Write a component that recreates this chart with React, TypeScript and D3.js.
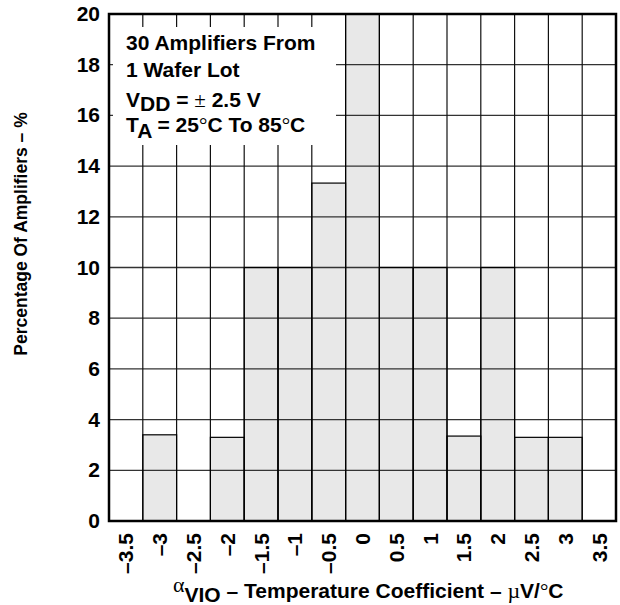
import React from 'react';
import * as d3 from 'd3';

// bin centres (µV/°C) and the label printed under each bin
const binCenters = [-3.5, -3, -2.5, -2, -1.5, -1, -0.5, 0, 0.5, 1, 1.5, 2, 2.5, 3, 3.5];
const tickLabels = ['–3.5', '–3', '–2.5', '–2', '–1.5', '–1', '–0.5', '0', '0.5', '1', '1.5', '2', '2.5', '3', '3.5'];
// percentage of amplifiers in each bin
const percentages = [0, 3.4, 0, 3.3, 10, 10, 13.33, 20, 10, 10, 3.35, 10, 3.3, 3.3, 0];
const yTicks = [0, 2, 4, 6, 8, 10, 12, 14, 16, 18, 20];

const W = 620;
const H = 605;
const left = 109;
const right = 616;
const top = 14;
const bottom = 521;

const font = '"Liberation Sans", Arial, Helvetica, sans-serif';
const symFont = '"Liberation Serif", "DejaVu Serif", serif';

const App: React.FC = () => {
  const x = d3
    .scaleBand<number>()
    .domain(binCenters)
    .range([left, right])
    .padding(0);
  const y = d3.scaleLinear().domain([0, 20]).range([bottom, top]);
  const bw = x.bandwidth();

  const edges = binCenters.slice(1).map((c) => x(c) as number);

  return (
    <svg
      width={W}
      height={H}
      style={{ position: 'absolute', left: 0, top: 0, background: '#fff' }}
      fontFamily={font}
    >
      {/* bars */}
      {binCenters.map((c, i) =>
        percentages[i] > 0 ? (
          <rect
            key={'b' + c}
            x={x(c)}
            y={y(percentages[i])}
            width={bw}
            height={bottom - y(percentages[i])}
            fill="#e8e8e8"
          />
        ) : null
      )}
      {/* grid */}
      {yTicks.slice(1, -1).map((t) => (
        <line key={'h' + t} x1={left} x2={right} y1={y(t)} y2={y(t)} stroke="#333" strokeWidth={1.3} />
      ))}
      {edges.map((e, i) => (
        <line key={'v' + i} x1={e} x2={e} y1={top} y2={bottom} stroke="#111" strokeWidth={1.2} />
      ))}
      {/* bar outlines */}
      {binCenters.map((c, i) =>
        percentages[i] > 0 ? (
          <rect
            key={'o' + c}
            x={x(c)}
            y={y(percentages[i])}
            width={bw}
            height={bottom - y(percentages[i])}
            fill="none"
            stroke="#000"
            strokeWidth={1.2}
          />
        ) : null
      )}
      {/* annotation box */}
      <rect x={113} y={27} width={223} height={118} fill="#fff" />
      <g fontWeight="bold" fontSize={21} fill="#000">
        <text x={126} y={50}>30 Amplifiers From</text>
        <text x={126} y={77}>1 Wafer Lot</text>
        <text x={126} y={107}>
          V<tspan dy={4}>DD</tspan>
          <tspan dy={-4}> = </tspan>
          <tspan fontFamily={symFont} fontWeight="normal">±</tspan>
          <tspan> 2.5 V</tspan>
        </text>
        <text x={126} y={132}>
          T<tspan dy={6}>A</tspan>
          <tspan dy={-6}> = 25</tspan>
          <tspan fontFamily={symFont} fontWeight="normal">°</tspan>
          <tspan>C To 85</tspan>
          <tspan fontFamily={symFont} fontWeight="normal">°</tspan>
          <tspan>C</tspan>
        </text>
      </g>
      {/* frame */}
      <rect x={left} y={top} width={right - left} height={bottom - top} fill="none" stroke="#000" strokeWidth={2.5} />
      {/* y ticks */}
      {yTicks.map((t) => (
        <text key={'yt' + t} x={100} y={y(t) + 7} textAnchor="end" fontWeight="bold" fontSize={21}>
          {t}
        </text>
      ))}
      {/* x ticks */}
      {binCenters.map((c, i) => (
        <text
          key={'xt' + c}
          transform={`translate(${(x(c) as number) + bw / 2 + 7.5},533) rotate(-90)`}
          textAnchor="end"
          fontWeight="bold"
          fontSize={21}
        >
          {tickLabels[i]}
        </text>
      ))}
      {/* axis titles */}
      <text transform="translate(27,234) rotate(-90)" textAnchor="middle" fontWeight="bold" fontSize={17.5}>
        Percentage Of Amplifiers – %
      </text>
      <text x={173} y={598} fontWeight="bold" fontSize={21}>
        <tspan fontFamily={symFont} fontWeight="normal" fontSize={22} dy={-6}>α</tspan>
        <tspan dy={10}>VIO</tspan>
        <tspan dy={-4}> – Temperature Coefficient – </tspan>
        <tspan fontFamily={symFont} fontWeight="normal" fontSize={22}>µ</tspan>
        <tspan>V/</tspan>
        <tspan fontFamily={symFont} fontWeight="normal">°</tspan>
        <tspan>C</tspan>
      </text>
    </svg>
  );
};

export default App;
